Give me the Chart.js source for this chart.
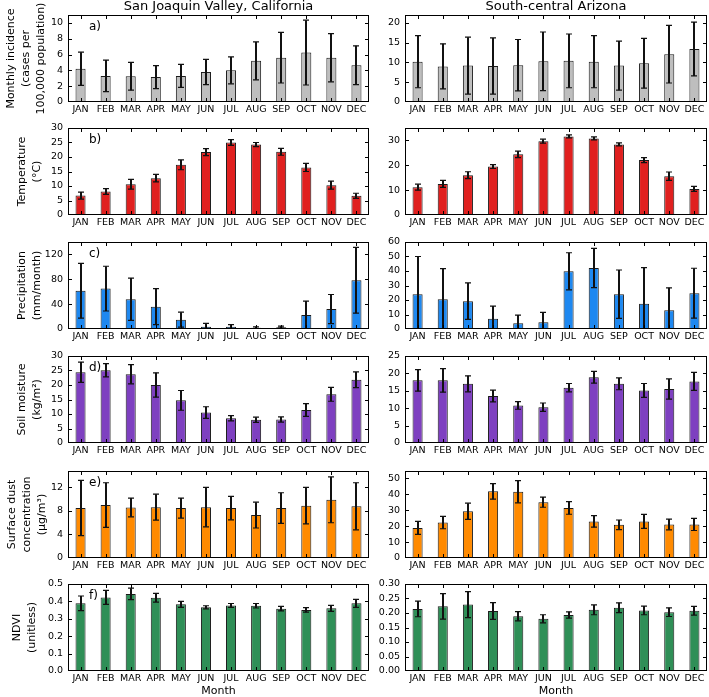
<!DOCTYPE html>
<html>
<head>
<meta charset="utf-8">
<script src="https://cdn.jsdelivr.net/npm/chart.js@4.4.1/dist/chart.umd.min.js"></script>
<style>
  html, body { margin: 0; padding: 0; background: #fff; }
  #fig { position: relative; width: 709px; height: 697px; overflow: hidden; background: #fff; }
  #fig canvas { position: absolute; }
</style>
</head>
<body>
<div id="fig"></div>
<script>
const months = ['JAN', 'FEB', 'MAR', 'APR', 'MAY', 'JUN', 'JUL', 'AUG', 'SEP', 'OCT', 'NOV', 'DEC'];
const regions = ['San Joaquin Valley, California', 'South-central Arizona'];

// a) monthly incidence (cases per 100,000)
const incSJV = [4.2, 3.3, 3.25, 3.15, 3.3, 3.8, 4.0, 5.2, 5.6, 6.25, 5.6, 4.65];
const incSJVErr = [2.1, 2.0, 1.75, 1.45, 1.45, 1.6, 1.7, 2.4, 3.2, 4.1, 3.05, 2.45];
const incAZ = [10.2, 9.0, 9.2, 9.1, 9.3, 10.3, 10.4, 10.2, 9.2, 9.8, 12.1, 13.4];
const incAZErr = [6.6, 5.7, 7.2, 7.1, 6.5, 7.4, 6.8, 6.6, 6.2, 6.3, 7.3, 6.8];

// b) temperature (C)
const tempSJV = [6.7, 8.1, 10.6, 12.7, 17.3, 21.7, 25.0, 24.3, 21.8, 16.4, 10.3, 6.6];
const tempSJVErr = [1.2, 1.0, 1.7, 1.3, 1.7, 1.2, 1.0, 0.7, 1.2, 1.4, 1.4, 0.9];
const tempAZ = [11.2, 12.5, 16.0, 19.5, 24.4, 29.7, 31.6, 30.8, 28.4, 22.1, 15.6, 10.5];
const tempAZErr = [1.2, 1.4, 1.4, 0.8, 1.3, 0.8, 0.6, 0.6, 0.6, 1.0, 1.7, 1.0];

// c) precipitation (mm/month)
const precSJV = [61.5, 65, 48, 36, 15, 3.7, 3.5, 2, 3, 22.5, 32, 78.5];
const precSJVErr = [44, 36, 34, 29, 12, 5.5, 3.5, 1.5, 1.5, 22.5, 23.5, 53];
const precAZ = [24, 20.6, 19.2, 7.1, 3.9, 4.6, 39.8, 42.1, 24, 17.4, 13, 24.7];
const precAZErr = [26, 21, 12.6, 8.7, 5.7, 6.8, 12.8, 13.5, 16.7, 24.9, 15.4, 17.2];

// d) soil moisture (kg/m2)
const soilSJV = [24.4, 25.1, 23.7, 20.0, 14.7, 10.5, 8.55, 8.0, 8.1, 11.4, 16.8, 21.8];
const soilSJVErr = [3.5, 2.3, 3.3, 4.2, 3.4, 2.0, 0.9, 0.9, 0.9, 2.2, 2.4, 2.7];
const soilAZ = [18.0, 18.0, 17.0, 13.5, 10.8, 10.3, 15.9, 18.9, 17.0, 15.1, 15.5, 17.7];
const soilAZErr = [3.1, 3.4, 2.3, 1.7, 1.1, 1.2, 1.2, 1.7, 1.7, 2.0, 2.9, 2.6];

// e) surface dust concentration (ug/m3)
const dustSJV = [8.5, 9.0, 8.6, 8.65, 8.5, 8.65, 8.5, 7.3, 8.5, 8.9, 9.9, 8.8];
const dustSJVErr = [4.7, 3.8, 1.6, 2.2, 1.7, 3.35, 2.0, 2.2, 2.6, 3.1, 3.9, 4.0];
const dustAZ = [18.9, 22.3, 29.4, 41.9, 41.7, 35.1, 31.5, 23.0, 20.9, 23.0, 21.1, 21.1];
const dustAZErr = [4.1, 3.9, 5.1, 4.9, 7.0, 3.2, 4.0, 3.6, 3.0, 4.4, 3.4, 3.8];

// f) NDVI
const ndviSJV = [0.389, 0.423, 0.443, 0.421, 0.383, 0.366, 0.377, 0.375, 0.358, 0.351, 0.36, 0.389];
const ndviSJVErr = [0.042, 0.04, 0.033, 0.025, 0.017, 0.009, 0.011, 0.013, 0.013, 0.013, 0.017, 0.023];
const ndviAZ = [0.214, 0.223, 0.229, 0.207, 0.189, 0.18, 0.193, 0.211, 0.218, 0.209, 0.203, 0.208];
const ndviAZErr = [0.027, 0.044, 0.045, 0.029, 0.016, 0.014, 0.011, 0.017, 0.017, 0.015, 0.015, 0.015];

// y tick labels
const incSJVTicks = [0, 2, 4, 6, 8, 10];
const incAZTicks = [0, 5, 10, 15, 20];
const tempSJVTicks = [0, 5, 10, 15, 20, 25, 30];
const tempAZTicks = [0, 5, 10, 15, 20, 25, 30, 35];
const precSJVTicks = [0, 20, 40, 60, 80, 100, 120, 140];
const precAZTicks = [0, 10, 20, 30, 40, 50, 60];
const soilSJVTicks = [0, 5, 10, 15, 20, 25, 30];
const soilAZTicks = [0, 5, 10, 15, 20, 25];
const dustSJVTicks = [0, 2, 4, 6, 8, 10, 12, 14];
const dustAZTicks = [0, 10, 20, 30, 40, 50];
const ndviSJVTicks = [0, 0.1, 0.2, 0.3, 0.4, 0.5];
const ndviAZTicks = [0, 0.05, 0.1, 0.15, 0.2, 0.25, 0.3];

const yTitles = [
  ['Monthly incidence', '(cases per', '100,000 population)'],
  ['Temperature', '(°C)'],
  ['Precipitation', '(mm/month)'],
  ['Soil moisture', '(kg/m²)'],
  ['Surface dust', 'concentration', '(µg/m³)'],
  ['NDVI', '(unitless)']
];
const letters = ['a)', 'b)', 'c)', 'd)', 'e)', 'f)'];

const GRAY = '#bebebe', RED = '#e0201f', BLUE = '#1e88f0', PURPLE = '#7e40c0', ORANGE = '#ff8a00', GREEN = '#2f8f57';

const panels = [
  { row: 0, col: 0, values: incSJV, errs: incSJVErr, ticks: incSJVTicks, max: 11, dec: 0, color: GRAY },
  { row: 0, col: 1, values: incAZ, errs: incAZErr, ticks: incAZTicks, max: 22, dec: 0, color: GRAY },
  { row: 1, col: 0, values: tempSJV, errs: tempSJVErr, ticks: tempSJVTicks, max: 30, dec: 0, color: RED },
  { row: 1, col: 1, values: tempAZ, errs: tempAZErr, ticks: tempAZTicks, max: 35, dec: 0, color: RED },
  { row: 2, col: 0, values: precSJV, errs: precSJVErr, ticks: precSJVTicks, max: 140, dec: 0, color: BLUE },
  { row: 2, col: 1, values: precAZ, errs: precAZErr, ticks: precAZTicks, max: 60, dec: 0, color: BLUE },
  { row: 3, col: 0, values: soilSJV, errs: soilSJVErr, ticks: soilSJVTicks, max: 30, dec: 0, color: PURPLE },
  { row: 3, col: 1, values: soilAZ, errs: soilAZErr, ticks: soilAZTicks, max: 25, dec: 0, color: PURPLE },
  { row: 4, col: 0, values: dustSJV, errs: dustSJVErr, ticks: dustSJVTicks, max: 14.8, dec: 0, color: ORANGE },
  { row: 4, col: 1, values: dustAZ, errs: dustAZErr, ticks: dustAZTicks, max: 54.7, dec: 0, color: ORANGE },
  { row: 5, col: 0, values: ndviSJV, errs: ndviSJVErr, ticks: ndviSJVTicks, max: 0.5, dec: 1, color: GREEN },
  { row: 5, col: 1, values: ndviAZ, errs: ndviAZErr, ticks: ndviAZTicks, max: 0.30, dec: 2, color: GREEN }
];

// layout
const FONT = '"DejaVu Sans", sans-serif';
const ROW_TOPS = [15, 128, 242, 356, 471, 584];
const PLOT_H = 87;
const PAD_TOP = 15;
const TITLE_PAD = [3.5, 15, 15, 14.5, 4.5, 9.5];

// error bars, frame, inward ticks, panel letters, column titles
const panelDeco = {
  id: 'panelDeco',
  afterDatasetsDraw(chart, args, opts) {
    const { ctx, chartArea: a, scales: { x, y } } = chart;
    const data = chart.data.datasets[0].data;
    const meta = chart.getDatasetMeta(0);

    ctx.save();
    ctx.beginPath();
    ctx.rect(a.left, a.top, a.right - a.left, a.bottom - a.top);
    ctx.clip();
    ctx.strokeStyle = '#111';
    meta.data.forEach((bar, i) => {
      const hi = y.getPixelForValue(data[i] + opts.errs[i]);
      const lo = y.getPixelForValue(data[i] - opts.errs[i]);
      const bx = Math.round(bar.x);
      ctx.lineWidth = 2;
      ctx.beginPath();
      ctx.moveTo(bx, hi);
      ctx.lineTo(bx, lo);
      ctx.stroke();
      ctx.lineWidth = 1.2;
      ctx.beginPath();
      ctx.moveTo(bx - 3, hi); ctx.lineTo(bx + 3, hi);
      ctx.moveTo(bx - 3, lo); ctx.lineTo(bx + 3, lo);
      ctx.stroke();
    });
    ctx.restore();

    ctx.save();
    ctx.strokeStyle = '#000';
    ctx.lineWidth = 1;
    ctx.strokeRect(a.left + 0.5, a.top + 0.5, a.right - a.left - 1, a.bottom - a.top - 1);
    ctx.beginPath();
    y.ticks.forEach(t => {
      const py = Math.round(y.getPixelForValue(t.value)) + 0.5;
      if (py <= a.top + 1 || py >= a.bottom - 1) return;
      ctx.moveTo(a.left, py); ctx.lineTo(a.left + 4, py);
      ctx.moveTo(a.right, py); ctx.lineTo(a.right - 4, py);
    });
    chart.data.labels.forEach((l, i) => {
      const px = Math.round(x.getPixelForValue(i)) + 0.5;
      ctx.moveTo(px, a.bottom); ctx.lineTo(px, a.bottom - 4);
      ctx.moveTo(px, a.top); ctx.lineTo(px, a.top + 4);
    });
    ctx.stroke();

    ctx.fillStyle = '#000';
    ctx.textBaseline = 'middle';
    if (opts.letter) {
      ctx.font = '12px ' + FONT;
      ctx.textAlign = 'left';
      ctx.fillText(opts.letter, a.left + 21, a.top + 12);
    }
    if (opts.title) {
      ctx.font = '13px ' + FONT;
      ctx.textAlign = 'center';
      ctx.fillText(opts.title, (a.left + a.right) / 2, a.top - 8);
    }
    ctx.restore();
  }
};

const fig = document.getElementById('fig');

panels.forEach(p => {
  const left = p.col === 0 ? 0 : 372;
  const width = p.col === 0 ? 372 : 337;
  const axisW = p.col === 0 ? 68 : 33;
  const padRight = p.col === 0 ? 3 : 2;
  const xAxisH = p.row === 5 ? 28 : 16;
  const canvas = document.createElement('canvas');
  canvas.width = width;
  canvas.height = PAD_TOP + PLOT_H + xAxisH;
  canvas.style.left = left + 'px';
  canvas.style.top = (ROW_TOPS[p.row] - PAD_TOP) + 'px';
  fig.appendChild(canvas);

  new Chart(canvas, {
    type: 'bar',
    data: {
      labels: months,
      datasets: [{
        data: p.values,
        backgroundColor: p.color,
        borderColor: '#1a1a1a',
        borderWidth: 1,
        borderSkipped: false,
        barPercentage: 0.4,
        categoryPercentage: 1
      }]
    },
    options: {
      responsive: false,
      animation: false,
      devicePixelRatio: 1,
      layout: { padding: { top: PAD_TOP, right: padRight, bottom: 0, left: 0 } },
      plugins: {
        legend: { display: false },
        tooltip: { enabled: false },
        panelDeco: {
          errs: p.errs,
          letter: p.col === 0 ? letters[p.row] : null,
          title: p.row === 0 ? regions[p.col] : null
        }
      },
      scales: {
        x: {
          grid: { display: false, drawTicks: false },
          border: { display: false },
          ticks: { color: '#000', font: { family: FONT, size: 9.5 }, padding: 2, maxRotation: 0, minRotation: 0, autoSkip: false },
          title: {
            display: p.row === 5,
            text: 'Month',
            color: '#000',
            font: { family: FONT, size: 11 },
            padding: { top: 0, bottom: 1 }
          },
          afterFit: s => { s.height = xAxisH; }
        },
        y: {
          min: 0,
          max: p.max,
          grid: { display: false, drawTicks: false },
          border: { display: false },
          ticks: {
            color: '#000',
            font: { family: FONT, size: 9.5 },
            padding: 5,
            callback: v => Number(v).toFixed(p.dec)
          },
          afterBuildTicks: s => { s.ticks = p.ticks.map(v => ({ value: v })); },
          afterFit: s => { s.width = axisW; },
          title: {
            display: p.col === 0,
            text: yTitles[p.row],
            color: '#000',
            font: { family: FONT, size: 11, lineHeight: 1.36 },
            padding: { top: TITLE_PAD[p.row], bottom: 0 }
          }
        }
      }
    },
    plugins: [panelDeco]
  });
});
</script>
</body>
</html>
